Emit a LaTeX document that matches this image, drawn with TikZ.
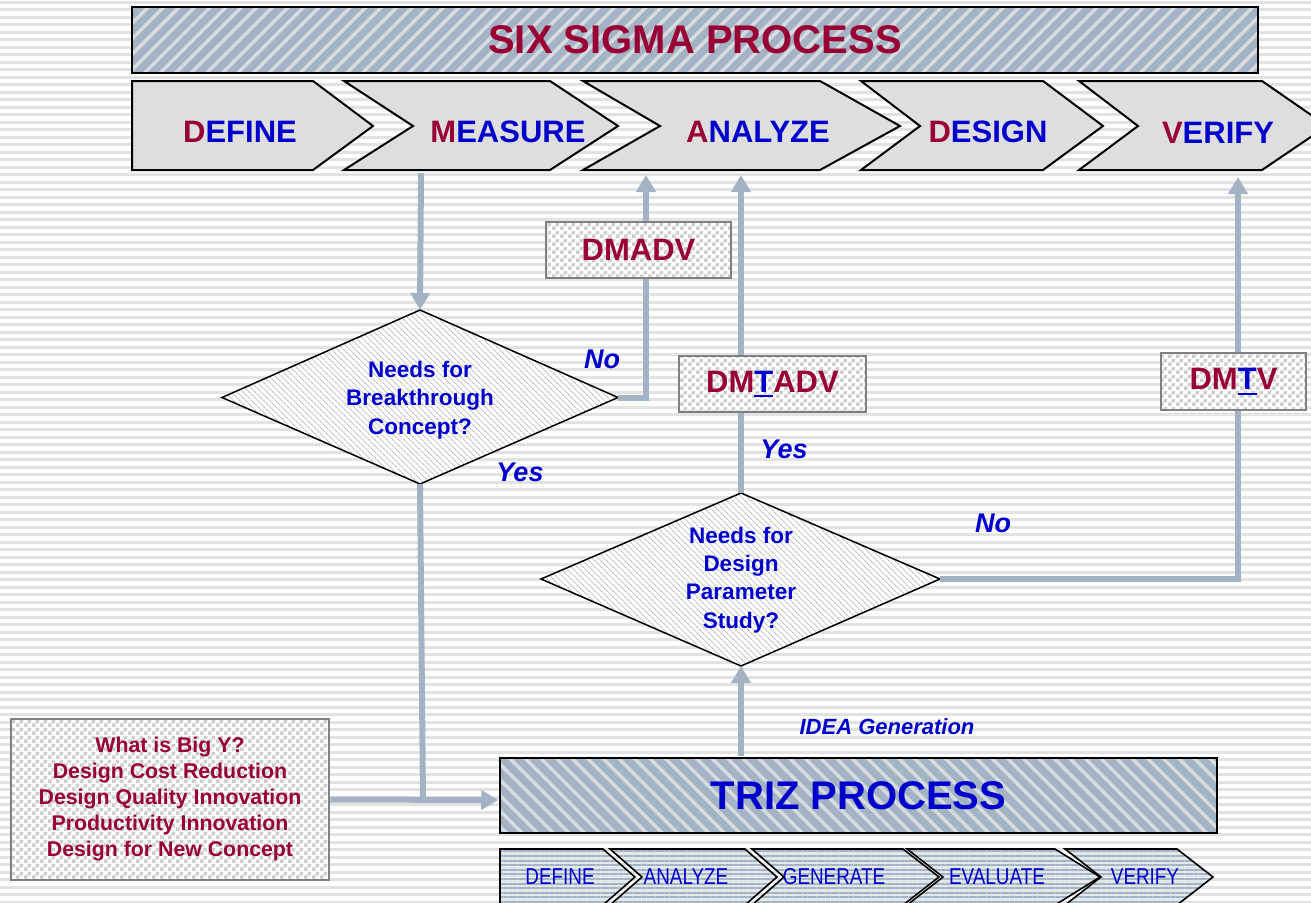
\documentclass[tikz,border=0pt]{standalone}
\usepackage{fontspec}
\setmainfont{Liberation Sans}
\newfontfamily\narrowsans[FakeStretch=0.82]{Liberation Sans}
\usetikzlibrary{arrows.meta,patterns.meta,shapes.geometric}

\definecolor{sigred}{RGB}{153,0,51}
\definecolor{sigblue}{RGB}{0,0,204}
\definecolor{steel}{RGB}{163,179,195}
\definecolor{stripe}{RGB}{214,219,224}
\definecolor{bgline}{RGB}{226,226,226}
\definecolor{chevfill}{RGB}{222,222,222}
\definecolor{boxedge}{RGB}{128,128,128}
\definecolor{checkgray}{RGB}{206,206,206}
\definecolor{hatchgray}{RGB}{196,196,196}
\definecolor{lowfill}{RGB}{226,231,236}

% coarse checkerboard for the tag boxes
\pgfdeclarepattern{
  name=bigchecker,
  type=uncolored,
  bottom left={\pgfpoint{0pt}{0pt}},
  top right={\pgfpoint{8pt}{8pt}},
  tile size={\pgfpoint{8pt}{8pt}},
  code={
    \pgfpathrectangle{\pgfpoint{0pt}{0pt}}{\pgfpoint{4pt}{4pt}}
    \pgfpathrectangle{\pgfpoint{4pt}{4pt}}{\pgfpoint{4pt}{4pt}}
    \pgfusepath{fill}
  }
}

% underlined blue T inside the red tags
\newcommand\ulT{\textcolor{sigblue}{\rlap{\rule[-5pt]{0.611em}{2pt}}T}}

\begin{document}
\begin{tikzpicture}[x=1pt,y=-1pt,
  banner/.style={draw=black,line width=2.5pt,preaction={fill=steel},
    pattern={Lines[angle=45,distance=11pt,line width=3.5pt]},pattern color=stripe,
    font=\bfseries\fontsize{40}{44}\selectfont,inner sep=0pt},
  trizbar/.style={banner,pattern={Lines[angle=-45,distance=11pt,line width=3.5pt]}},
  chev/.style={draw=black,line width=2pt,fill=chevfill,line join=miter},
  lowchev/.style={draw=black,line width=1.6pt,preaction={fill=lowfill},
    pattern={Lines[angle=0,distance=4.6pt,line width=2pt]},pattern color=steel,line join=miter},
  chevtext/.style={anchor=base,text=sigblue,font=\bfseries\fontsize{31}{34}\selectfont,inner sep=0pt},
  lowtext/.style={text=sigblue,font=\narrowsans\fontsize{23}{26}\selectfont,inner sep=0pt},
  decision/.style={draw=black,line width=1.5pt,preaction={fill=white},
    pattern={Lines[angle=-45,distance=4pt,line width=1.2pt]},pattern color=hatchgray,
    line join=miter},
  question/.style={inner sep=0pt,align=center,text=sigblue,
    font=\bfseries\fontsize{22.5}{28.3}\selectfont},
  tagbox/.style={draw=boxedge,line width=2.5pt,preaction={fill=white},
    pattern=bigchecker,pattern color=checkgray,inner sep=0pt,text=sigred,
    font=\bfseries\fontsize{31}{34}\selectfont},
  flow/.style={draw=steel,line width=6pt,-{Triangle[length=17pt,width=19pt]}},
  link/.style={draw=steel,line width=6pt},
  answer/.style={text=sigblue,font=\bfseries\itshape\fontsize{27}{30}\selectfont,inner sep=0pt}
]
\useasboundingbox (0,0) rectangle (1311,902);
\clip (0,0) rectangle (1311,902);

% striped backdrop
\fill[white] (0,0) rectangle (1311,902);
\foreach \y in {2,9.5,...,902} \draw[bgline,line width=3pt] (0,\y) -- (1311,\y);

% six sigma banner and phase chevrons
\node[banner,minimum width=1126pt,minimum height=66pt,text=sigred] (sixsigma) at (695,40) {SIX SIGMA PROCESS};

\path[chev] (132,81) -- (313,81) -- (373,126) -- (313,170) -- (132,170) -- cycle;
\path[chev] (344,81) -- (550,81) -- (618,126) -- (550,170) -- (344,170) -- (413,126) -- cycle;
\path[chev] (583,81) -- (820,81) -- (900,126) -- (820,170) -- (583,170) -- (660,126) -- cycle;
\path[chev] (861,81) -- (1043,81) -- (1103,126) -- (1043,170) -- (861,170) -- (920,126) -- cycle;
\path[chev] (1079,81) -- (1262,81) -- (1327,126) -- (1262,170) -- (1079,170) -- (1138,126) -- cycle;

\node[chevtext] (sdefine) at (240,142) {\textcolor{sigred}{D}EFINE};
\node[chevtext] (smeasure) at (508,142) {\textcolor{sigred}{M}EASURE};
\node[chevtext] (sanalyze) at (758,142) {\textcolor{sigred}{A}NALYZE};
\node[chevtext] (sdesign) at (988,142) {\textcolor{sigred}{D}ESIGN};
\node[chevtext] (sverify) at (1218,143) {\textcolor{sigred}{V}ERIFY};

% connection points on the phase row
\coordinate (measureOut) at (421,173);
\coordinate (analyzeInA) at (646,175);
\coordinate (analyzeInB) at (741,175);
\coordinate (verifyIn) at (1238,177);

% decision diamonds
\coordinate (d1n) at (420,310);
\coordinate (d1e) at (618,397.5);
\coordinate (d1s) at (420,484);
\coordinate (d1w) at (222,397.5);
\path[decision] (d1n) -- (d1e) -- (d1s) -- (d1w) -- cycle;
\node[question] (d1) at (420,400) {Needs for\\Breakthrough\\Concept?};

\coordinate (d2n) at (741,493);
\coordinate (d2e) at (940,579);
\coordinate (d2s) at (741,666);
\coordinate (d2w) at (541,579);
\path[decision] (d2n) -- (d2e) -- (d2s) -- (d2w) -- cycle;
\node[question] (d2) at (741,580) {Needs for\\Design\\Parameter\\Study?};

% triz banner and its phases
\node[trizbar,minimum width=717pt,minimum height=75pt,text=sigblue] (triz) at (858.5,795.5) {TRIZ PROCESS};

\path[lowchev] (500,849) -- (603,849) -- (635,877) -- (603,905) -- (500,905) -- cycle;
\path[lowchev] (610,849) -- (745,849) -- (777,877) -- (745,905) -- (610,905) -- (642,877) -- cycle;
\path[lowchev] (752,849) -- (903,849) -- (939,877) -- (903,905) -- (752,905) -- (784,877) -- cycle;
\path[lowchev] (907,849) -- (1055,849) -- (1100,877) -- (1055,905) -- (907,905) -- (943,877) -- cycle;
\path[lowchev] (1065,849) -- (1177,849) -- (1213,877) -- (1177,905) -- (1065,905) -- (1101,877) -- cycle;

\node[lowtext] (tdefine) at (560,877) {DEFINE};
\node[lowtext] (tanalyze) at (686,877) {ANALYZE};
\node[lowtext] (tgenerate) at (834,877) {GENERATE};
\node[lowtext] (tevaluate) at (997,877) {EVALUATE};
\node[lowtext] (tverify) at (1145,877) {VERIFY};

% big-Y box
\node[tagbox,minimum width=318pt,minimum height=161pt,align=center,
  font=\bfseries\fontsize{21.3}{26}\selectfont] (bigy) at (170,799.5)
  {What is Big Y?\\Design Cost Reduction\\Design Quality Innovation\\Productivity Innovation\\Design for New Concept};

% flow connectors
\coordinate (jn) at (423,800);
\draw[flow] (measureOut) -- (d1n);
\draw[flow] (d1e) -| (analyzeInA);
\draw[flow] (d2n) -- (analyzeInB);
\draw[flow] (d2e) -| (verifyIn);
\draw[link] (d1s) -- (jn);
\draw[flow] (bigy.east) -- (triz.west |- jn);
\draw[flow] (d2s |- triz.north) -- (d2s);

% route tags
\node[tagbox,minimum width=185pt,minimum height=56pt] (dmadv) at (638.5,250) {DMADV};
\node[tagbox,minimum width=187pt,minimum height=56pt] (dmtadv) at (772.5,384) {DM\ulT ADV};
\node[tagbox,minimum width=145pt,minimum height=57pt] (dmtv) at (1233.5,381.5) {DM\ulT V};

% answers and notes
\node[answer] (no1) at (602,359) {No};
\node[answer] (yes1) at (520,472) {Yes};
\node[answer] (yes2) at (784,449) {Yes};
\node[answer] (no2) at (993,523) {No};
\node[answer,font=\bfseries\itshape\fontsize{22}{26}\selectfont] (idea) at (887,727) {IDEA Generation};
\end{tikzpicture}
\end{document}
